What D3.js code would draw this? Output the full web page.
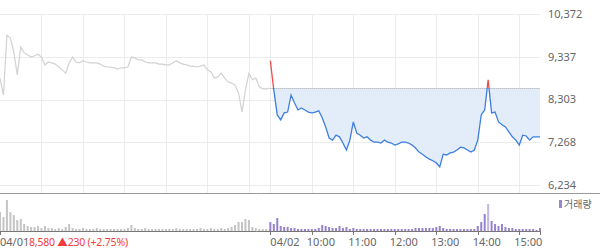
<!DOCTYPE html>
<html>
<head>
<meta charset="utf-8">
<script src="https://cdn.jsdelivr.net/npm/d3@7"></script>
<style>
  body { margin: 0; background: #fff; }
  svg { display: block; font-family: "Noto Sans", "Noto Sans CJK KR", sans-serif; }
</style>
</head>
<body>
<script>
// price ticks on the right axis
var priceTicks = [6234, 7268, 8303, 9337, 10372];
var prevClose = 8580;
var hourLabels = ["10:00", "11:00", "12:00", "13:00", "14:00", "15:00"];
var dayLabels = ["04/01", "04/02"];
var day1Summary = "8,580 ▲230 (+2.75%)";

// 5 minute samples, 09:00 .. 15:30
var day1Price = [8820, 8410, 9860, 9790, 9450, 8900, 9570, 9430, 9380, 9330,
  9360, 9400, 9330, 9140, 9210, 9190, 9160, 9090, 9020, 8940,
  9190, 9330, 9210, 9190, 9240, 9210, 9190, 9190, 9190, 9160,
  9110, 9090, 9090, 9070, 9040, 9070, 9070, 9090, 9330, 9310,
  9260, 9260, 9210, 9190, 9190, 9190, 9160, 9160, 9140, 9140,
  9190, 9240, 9190, 9160, 9140, 9110, 9110, 9090, 9110, 9140,
  9020, 8970, 8820, 8850, 8940, 8820, 8730, 8700, 8650, 8460,
  8000, 8530, 8940, 8780, 8820, 8610, 8560, 8560, 8580];

var day2Price = [9240, 8530, 7930, 7810, 7980, 8000, 8410, 8220, 8050, 8100,
  8050, 8000, 7980, 8000, 8030, 7860, 7640, 7370, 7320, 7440,
  7400, 7250, 7080, 7320, 7760, 7490, 7440, 7370, 7400, 7320,
  7270, 7270, 7250, 7320, 7270, 7250, 7200, 7230, 7270, 7270,
  7250, 7200, 7130, 7030, 6980, 6910, 6860, 6820, 6770, 6670,
  6980, 6960, 7010, 7030, 7080, 7150, 7130, 7080, 7030, 7080,
  7320, 7930, 8050, 8780, 7980, 8000, 7760, 7690, 7640, 7520,
  7400, 7320, 7200, 7440, 7420, 7320, 7400, 7400, 7400];

var day1Volume = [190, 140, 310, 190, 160, 110, 120, 70, 50, 40,
  40, 50, 30, 50, 30, 30, 20, 30, 20, 40,
  70, 30, 20, 20, 30, 20, 20, 20, 30, 20,
  20, 20, 20, 20, 20, 20, 20, 30, 60, 30,
  20, 20, 30, 20, 20, 20, 20, 20, 20, 20,
  20, 30, 20, 20, 20, 20, 20, 20, 30, 20,
  20, 30, 20, 20, 30, 20, 30, 40, 60, 90,
  90, 120, 110, 40, 30, 20, 20, 20, 20];

var day2Volume = [90, 70, 130, 50, 40, 40, 30, 30, 20, 20,
  20, 20, 20, 20, 30, 60, 50, 40, 30, 30,
  50, 30, 40, 20, 30, 20, 20, 20, 20, 20,
  20, 20, 20, 20, 20, 20, 20, 20, 20, 20,
  20, 20, 30, 30, 30, 30, 30, 30, 40, 50,
  30, 20, 20, 20, 20, 20, 20, 20, 20, 20,
  50, 90, 170, 270, 100, 70, 50, 70, 40, 30,
  30, 20, 20, 20, 20, 20, 20, 10, 30];

var width = 600, height = 248;
var day2Start = 391; // minutes offset of the second session

var svg = d3.select("body").append("svg")
    .attr("width", width)
    .attr("height", height);

var x = d3.scaleLinear().domain([0, 781]).range([0, 540]);
var y = d3.scaleLinear().domain([6234, 10372]).range([185, 14]);
var yv = d3.scaleLinear().domain([0, 340]).range([231, 197]);

var d1 = day1Price.map(function(v, i) { return {t: i * 5, v: v}; });
var d2 = day2Price.map(function(v, i) { return {t: day2Start + i * 5, v: v}; });

// grid
var hours1 = d3.range(60, 361, 60);
var hours2 = hours1.map(function(h) { return h + day2Start; });
var vgrid = hours1.concat([day2Start]).concat(hours2);

svg.append("g").selectAll("line")
    .data(priceTicks)
  .enter().append("line")
    .attr("x1", 0).attr("x2", 540)
    .attr("y1", function(d) { return Math.round(y(d)) + 0.5; })
    .attr("y2", function(d) { return Math.round(y(d)) + 0.5; })
    .attr("stroke", "#ececec");

svg.append("g").selectAll("line")
    .data(vgrid)
  .enter().append("line")
    .attr("x1", function(d) { return Math.round(x(d)) + 0.5; })
    .attr("x2", function(d) { return Math.round(x(d)) + 0.5; })
    .attr("y1", 14).attr("y2", 193)
    .attr("stroke", "#ececec");

// right axis labels
svg.append("g").selectAll("text")
    .data(priceTicks)
  .enter().append("text")
    .attr("x", 548)
    .attr("y", function(d) { return y(d); })
    .attr("dy", "0.35em")
    .attr("font-size", 11)
    .attr("fill", "#666")
    .text(function(d) { return d3.format(",")(d); });

// day 2 fill between price and previous close
var area = d3.area()
    .x(function(d) { return x(d.t); })
    .y0(y(prevClose))
    .y1(function(d) { return y(Math.min(d.v, prevClose)); });

svg.append("path")
    .datum(d2)
    .attr("d", area)
    .attr("fill", "#e3ecf9");

// previous close dotted line
svg.append("line")
    .attr("x1", x(day2Start)).attr("x2", 540)
    .attr("y1", Math.round(y(prevClose)) + 0.5)
    .attr("y2", Math.round(y(prevClose)) + 0.5)
    .attr("stroke", "#aaa")
    .attr("stroke-dasharray", "1,1");

var line = d3.line()
    .x(function(d) { return x(d.t); })
    .y(function(d) { return y(d.v); });

svg.append("path")
    .datum(d1)
    .attr("d", line)
    .attr("fill", "none")
    .attr("stroke", "#d2d2d2")
    .attr("stroke-width", 1.2);

var defs = svg.append("defs");
defs.append("clipPath").attr("id", "above")
  .append("rect").attr("x", 0).attr("y", 0).attr("width", 600).attr("height", y(prevClose));
defs.append("clipPath").attr("id", "below")
  .append("rect").attr("x", 0).attr("y", y(prevClose)).attr("width", 600).attr("height", 200);

svg.append("path")
    .datum(d2)
    .attr("d", line)
    .attr("clip-path", "url(#below)")
    .attr("fill", "none")
    .attr("stroke", "#3d7fe0")
    .attr("stroke-width", 1.3);

svg.append("path")
    .datum(d2)
    .attr("d", line)
    .attr("clip-path", "url(#above)")
    .attr("fill", "none")
    .attr("stroke", "#f24b4b")
    .attr("stroke-width", 1.3);

// separator between price and volume
svg.append("line")
    .attr("x1", 0).attr("x2", 600)
    .attr("y1", 193.5).attr("y2", 193.5)
    .attr("stroke", "#999");

// volume bars
var maxV2 = d3.max(day2Volume);
svg.append("g").selectAll("rect")
    .data(day1Volume)
  .enter().append("rect")
    .attr("x", function(d, i) { return x(i * 5) - 1; })
    .attr("width", 2)
    .attr("y", function(d) { return yv(d); })
    .attr("height", function(d) { return yv(0) - yv(d); })
    .attr("fill", "#c4c4c4");

svg.append("g").selectAll("rect")
    .data(day2Volume)
  .enter().append("rect")
    .attr("x", function(d, i) { return x(day2Start + i * 5) - 1; })
    .attr("width", 2)
    .attr("y", function(d) { return yv(d); })
    .attr("height", function(d) { return yv(0) - yv(d); })
    .attr("fill", function(d) { return d === maxV2 ? "#c3b5e4" : "#9783cc"; });

// legend
svg.append("rect")
    .attr("x", 559).attr("y", 200).attr("width", 3).attr("height", 8)
    .attr("fill", "#9a86cf");
svg.append("text")
    .attr("x", 564).attr("y", 204)
    .attr("dy", "0.35em")
    .attr("font-size", 10)
    .attr("fill", "#666")
    .text("거래량");

// bottom axis
svg.append("line")
    .attr("x1", 0).attr("x2", 540)
    .attr("y1", 231.5).attr("y2", 231.5)
    .attr("stroke", "#777");

var tickPos = [0, day2Start].concat(hours2).concat([781]);
svg.append("g").selectAll("line")
    .data(tickPos)
  .enter().append("line")
    .attr("x1", function(d) { return Math.round(x(d)) + 0.5; })
    .attr("x2", function(d) { return Math.round(x(d)) + 0.5; })
    .attr("y1", 231).attr("y2", 235)
    .attr("stroke", "#777");

svg.append("text")
    .attr("x", 0).attr("y", 242)
    .attr("dy", "0.35em")
    .attr("font-size", 11)
    .attr("fill", "#666")
    .text(dayLabels[0]);

svg.append("text")
    .attr("x", 29).attr("y", 242)
    .attr("dy", "0.35em")
    .attr("font-size", 10.5)
    .attr("letter-spacing", -0.2)
    .attr("fill", "#f23c3c")
    .text(day1Summary);

svg.append("text")
    .attr("x", x(day2Start)).attr("y", 242)
    .attr("dy", "0.35em")
    .attr("font-size", 11)
    .attr("fill", "#666")
    .text(dayLabels[1]);

svg.append("g").selectAll("text")
    .data(hourLabels)
  .enter().append("text")
    .attr("x", function(d, i) { return x(hours2[i]) - 5; })
    .attr("y", 242)
    .attr("dy", "0.35em")
    .attr("font-size", 11)
    .attr("fill", "#666")
    .text(function(d) { return d; });
</script>
</body>
</html>
